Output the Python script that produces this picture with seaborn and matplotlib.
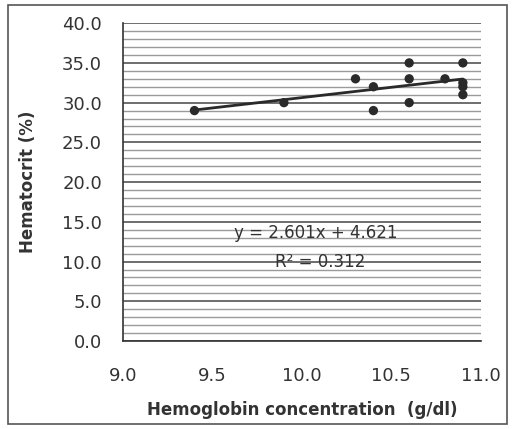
import numpy as np
import pandas as pd
import matplotlib
matplotlib.use("Agg")
import matplotlib.pyplot as plt
import seaborn as sns
from matplotlib.patches import Rectangle

# Hemoglobin vs hematocrit data
hemoglobin = [9.4, 9.9, 10.3, 10.4, 10.4, 10.6, 10.6, 10.6, 10.8, 10.9, 10.9, 10.9, 10.9]
hematocrit = [29, 30, 33, 32, 29, 35, 33, 30, 33, 35, 32.5, 32, 31]

# Trendline reported on the chart
slope = 2.601
intercept = 4.621
r_squared = 0.312

df = pd.DataFrame({"hb": hemoglobin, "hct": hematocrit})

sns.set_style("white")
plt.rcParams["font.family"] = ["DejaVu Sans"]

fig = plt.figure(figsize=(5.12, 4.29), dpi=100)
ax = fig.add_axes([0.240, 0.205, 0.699, 0.741])

# outer frame
fig.patches.append(Rectangle((0.016, 0.012), 0.975, 0.976, transform=fig.transFigure,
                             fill=False, edgecolor="#555555", linewidth=1.2))

# horizontal gridlines every 1.0, darker every 5.0
ax.set_yticks(np.arange(0, 41, 5))
ax.set_yticks(np.arange(0, 41, 1), minor=True)
ax.grid(axis="y", which="minor", color="#9a9a9a", linewidth=1.0)
ax.grid(axis="y", which="major", color="#555555", linewidth=1.2)
ax.set_axisbelow(True)

# trendline
xs = np.array([min(hemoglobin), max(hemoglobin)])
trend = pd.DataFrame({"hb": xs, "hct": slope * xs + intercept})
sns.lineplot(data=trend, x="hb", y="hct", ax=ax, color="#2a2a2a", linewidth=2.0)

sns.scatterplot(data=df, x="hb", y="hct", ax=ax, color="#2a2a2a", s=45,
                edgecolor="none", zorder=3)

ax.set_xlim(9.0, 11.0)
ax.set_ylim(0, 40)
ax.set_xticks(np.arange(9.0, 11.01, 0.5))
ax.set_xticklabels([f"{v:.1f}" for v in np.arange(9.0, 11.01, 0.5)])
ax.set_yticklabels([f"{v:.1f}" for v in np.arange(0, 41, 5)])
ax.tick_params(axis="both", which="major", direction="out", length=6, width=1,
               color="#333333", labelsize=13, labelcolor="#333333")
ax.tick_params(axis="x", pad=13)
ax.tick_params(axis="y", pad=9)
ax.tick_params(axis="y", which="minor", length=0)

for s in ["top", "right"]:
    ax.spines[s].set_visible(False)
for s in ["left", "bottom"]:
    ax.spines[s].set_color("#333333")
    ax.spines[s].set_linewidth(1.2)

ax.set_xlabel("Hemoglobin concentration  (g/dl)", fontsize=12, fontweight="bold",
              color="#333333", labelpad=11)
ax.set_ylabel("Hematocrit (%)", fontsize=12, fontweight="bold", color="#333333",
              labelpad=18)

ax.text(10.08, 13.6, f"y = {slope}x + {intercept}", ha="center", va="center",
        fontsize=12, color="#333333")
ax.text(10.1, 10.0, f"R² = {r_squared}", ha="center", va="center",
        fontsize=12, color="#333333")

fig.savefig("out.png", dpi=100)
